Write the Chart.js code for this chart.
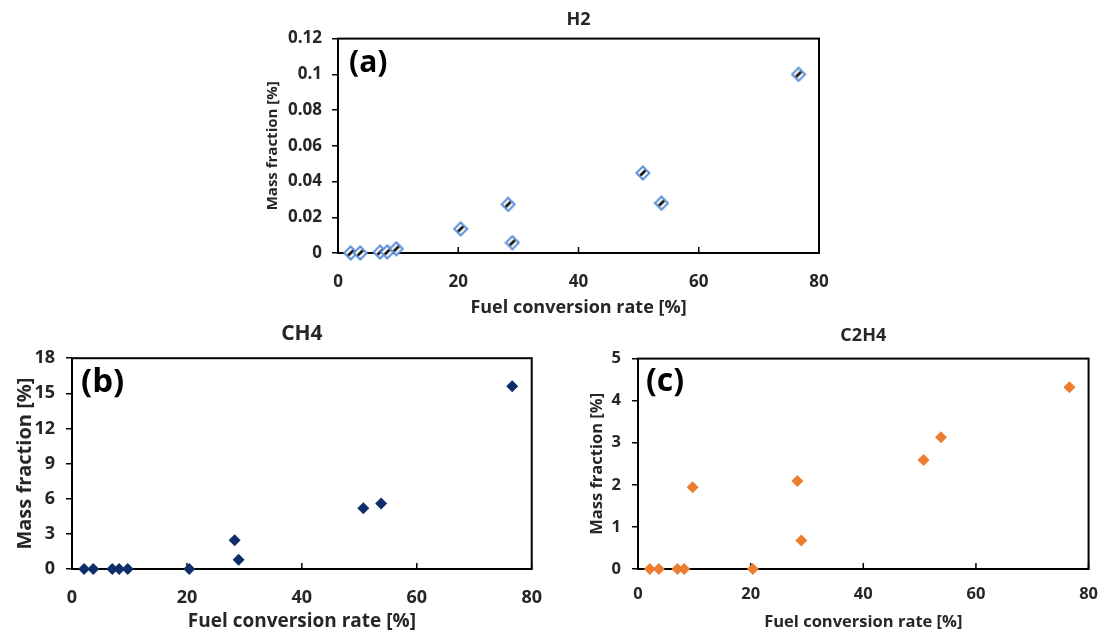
<!DOCTYPE html>
<html>
<head>
<meta charset="utf-8">
<script src="https://cdn.jsdelivr.net/npm/chart.js@4"></script>
<style>
  body { margin: 0; background: #fff; }
  .box { position: absolute; }
</style>
</head>
<body>
<div class="box" style="left:250px;top:0;width:600px;height:320px"><canvas id="chartA"></canvas></div>
<div class="box" style="left:0;top:320px;width:560px;height:313px"><canvas id="chartB"></canvas></div>
<div class="box" style="left:575px;top:320px;width:538px;height:313px"><canvas id="chartC"></canvas></div>
<script>
// fuel conversion rate [%] for the 11 test runs
const fuelConversion = [2.1, 3.7, 7.0, 8.2, 9.7, 20.4, 28.3, 29.0, 50.7, 53.8, 76.6];
const h2Fraction = [0, 0, 0.0005, 0.0006, 0.0024, 0.0135, 0.0272, 0.0058, 0.0448, 0.0279, 0.1];
const ch4Fraction = [0, 0, 0, 0, 0, 0, 2.46, 0.8, 5.19, 5.59, 15.6];
const c2h4Fraction = [0, 0, 0, 0, 1.94, 0, 2.09, 0.68, 2.59, 3.13, 4.32];

const xTicks = [0, 20, 40, 60, 80];
const h2Ticks = [0, 0.02, 0.04, 0.06, 0.08, 0.1, 0.12];
const ch4Ticks = [0, 3, 6, 9, 12, 15, 18];
const c2h4Ticks = [0, 1, 2, 3, 4, 5];

const FONT = "'Open Sans', 'Noto Sans', sans-serif";
const TXT = "#262626";

// hollow blue diamond with the dark smear Excel leaves inside
function h2Marker() {
    const c = document.createElement("canvas");
    c.width = 16; c.height = 16;
    const g = c.getContext("2d");
    g.beginPath();
    g.moveTo(8, 1.5); g.lineTo(14.5, 8); g.lineTo(8, 14.5); g.lineTo(1.5, 8); g.closePath();
    g.fillStyle = "#fff"; g.fill();
    g.lineWidth = 2; g.strokeStyle = "#5b8fd8"; g.stroke();
    g.beginPath();
    g.moveTo(5.5, 10.5); g.lineTo(10.5, 5.5);
    g.lineWidth = 2.6; g.strokeStyle = "#111"; g.stroke();
    return c;
}

// frame, inward x ticks and the panel letter
const framePlugin = {
    id: "frame",
    beforeDatasetsDraw(chart, args, opts) {
        const a = chart.chartArea, ctx = chart.ctx, xs = chart.scales.x;
        ctx.save();
        ctx.strokeStyle = "#000";
        ctx.lineWidth = 2;
        ctx.strokeRect(a.left, a.top, a.right - a.left, a.bottom - a.top);
        ctx.lineWidth = 1.5;
        xTicks.forEach(v => {
            const px = xs.getPixelForValue(v);
            ctx.beginPath();
            ctx.moveTo(px, a.bottom);
            ctx.lineTo(px, a.bottom - 6);
            ctx.stroke();
        });
        ctx.fillStyle = "#000";
        ctx.font = "bold " + opts.size + "px " + FONT;
        ctx.textBaseline = "top";
        ctx.fillText(opts.label, a.left + opts.dx, a.top + opts.dy);
        ctx.restore();
    }
};

function makeChart(id, cfg) {
    new Chart(document.getElementById(id), {
        type: "scatter",
        data: {
            datasets: [{
                data: fuelConversion.map((x, i) => ({ x: x, y: cfg.values[i] })),
                pointStyle: cfg.pointStyle,
                pointRadius: cfg.radius,
                pointHoverRadius: cfg.radius,
                backgroundColor: cfg.color,
                borderColor: cfg.color,
                borderWidth: 0,
                clip: false
            }]
        },
        options: {
            responsive: true,
            maintainAspectRatio: false,
            animation: false,
            layout: { padding: cfg.padding },
            plugins: {
                legend: { display: false },
                tooltip: { enabled: false },
                title: {
                    display: true,
                    fullSize: false,
                    text: cfg.title,
                    color: TXT,
                    font: { family: FONT, size: cfg.titleSize, weight: "bold" },
                    padding: cfg.titlePad
                },
                frame: cfg.frame
            },
            scales: {
                x: {
                    type: "linear",
                    min: 0, max: 80,
                    afterBuildTicks: s => { s.ticks = xTicks.map(v => ({ value: v })); },
                    afterFit: s => { s.height = cfg.xHeight; },
                    grid: { display: false, drawTicks: false },
                    border: { display: false },
                    ticks: {
                        color: TXT, padding: cfg.xTickPad,
                        font: { family: FONT, size: cfg.tickSize, weight: "bold" },
                        callback: v => String(v)
                    },
                    title: {
                        display: true, text: "Fuel conversion rate [%]", color: TXT,
                        font: { family: FONT, size: cfg.xTitleSize, weight: "bold" },
                        padding: { top: 0, bottom: cfg.xTitlePad }
                    }
                },
                y: {
                    type: "linear",
                    min: cfg.yTicks[0], max: cfg.yTicks[cfg.yTicks.length - 1],
                    afterBuildTicks: s => { s.ticks = cfg.yTicks.map(v => ({ value: v })); },
                    afterFit: s => { s.width = cfg.yWidth; },
                    grid: { drawOnChartArea: false, drawTicks: true, tickLength: 6, color: "#000", lineWidth: 1.5 },
                    border: { display: false },
                    ticks: {
                        color: TXT, padding: cfg.yTickPad,
                        font: { family: FONT, size: cfg.tickSize, weight: "bold" },
                        callback: v => String(v)
                    },
                    title: {
                        display: true, text: "Mass fraction [%]", color: TXT,
                        font: { family: FONT, size: cfg.yTitleSize, weight: "bold" },
                        padding: { top: cfg.yTitlePad, bottom: 0 }
                    }
                }
            }
        },
        plugins: [framePlugin]
    });
}

makeChart("chartA", {
    values: h2Fraction, yTicks: h2Ticks, title: "H2",
    pointStyle: h2Marker(), radius: 7, color: "#5b8fd8",
    padding: { left: 0, right: 31, top: 0, bottom: 0 },
    titleSize: 18, titlePad: { top: 9, bottom: 8 },
    tickSize: 17, xTitleSize: 18, yTitleSize: 15,
    xHeight: 67, xTickPad: 19, xTitlePad: 1,
    yWidth: 88, yTickPad: 10, yTitlePad: 14,
    frame: { label: "(a)", size: 30, dx: 11, dy: 10 }
});

makeChart("chartB", {
    values: ch4Fraction, yTicks: ch4Ticks, title: "CH4",
    pointStyle: "rectRot", radius: 6, color: "#0f2f6b",
    padding: { left: 0, right: 23, top: 0, bottom: 0 },
    titleSize: 21, titlePad: { top: 1, bottom: 12 },
    tickSize: 18, xTitleSize: 19, yTitleSize: 20,
    xHeight: 64, xTickPad: 18, xTitlePad: 0,
    yWidth: 72, yTickPad: 11, yTitlePad: 13,
    frame: { label: "(b)", size: 33, dx: 9, dy: 8 }
});

makeChart("chartC", {
    values: c2h4Fraction, yTicks: c2h4Ticks, title: "C2H4",
    pointStyle: "rectRot", radius: 6, color: "#ed7d31",
    padding: { left: 0, right: 16, top: 0, bottom: 0 },
    titleSize: 18, titlePad: { top: 5, bottom: 12 },
    tickSize: 16.5, xTitleSize: 16.5, yTitleSize: 16.5,
    xHeight: 64, xTickPad: 15, xTitlePad: 1,
    yWidth: 63, yTickPad: 11, yTitlePad: 12,
    frame: { label: "(c)", size: 32, dx: 8, dy: 7 }
});
</script>
</body>
</html>
